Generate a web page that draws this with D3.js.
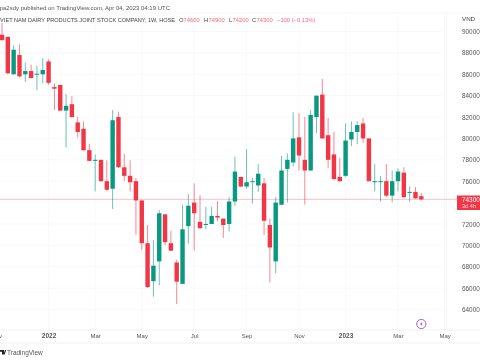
<!DOCTYPE html>
<html>
<head>
<meta charset="utf-8">
<script src="https://cdn.jsdelivr.net/npm/d3@7"></script>
<style>
html, body { margin: 0; padding: 0; background: #fff; }
svg { display: block; filter: blur(0.45px); }
text { font-family: "Liberation Sans", Arial, sans-serif; }
</style>
</head>
<body>
<svg id="chart" width="480" height="360"></svg>
<script>
const opens = [89700,89500,86000,87800,86000,86300,86000,86000,87200,84800,85000,82600,83200,81500,80900,78900,77900,78000,76000,75300,82000,77300,76500,76000,74200,70200,66650,68500,72900,70200,68400,66400,71800,74000,72200,71950,72000,72750,72500,72000,74100,76400,75500,75950,75600,75800,71900,68500,73800,77150,77750,80100,78000,77000,82000,84100,80300,78500,76400,76500,79900,80600,81400,80000,75900,75950,76000,74650,76000,76800,74950,75000,74600];
const highs = [90800,89500,88700,88800,87100,86900,86800,87500,87400,85150,85000,84150,83950,82050,81600,79500,78500,78000,77950,82650,82500,78550,77950,76300,74200,71900,70500,73300,72900,71350,68650,73800,74800,75800,74700,73600,73600,74150,72500,74500,78300,76400,79000,76300,77600,76300,72500,74500,78350,78600,82450,82350,82000,82650,84000,85550,81900,80600,78200,81400,81600,81600,81900,80000,77600,76500,77600,77000,77200,77300,75500,75450,74900];
const lows = [89100,86000,86000,85700,85300,85600,84500,85150,85000,82650,82600,79150,81950,80100,78850,77850,75050,75950,75100,73400,77250,76000,75050,71000,69600,66000,65200,66250,70000,69500,64500,66400,70150,69500,71550,71500,72000,72250,70700,71300,73700,75450,75300,73900,75000,70950,66550,67400,73800,74000,77400,77000,73800,77000,80500,80000,77200,76100,75950,76400,79300,79450,79600,76000,75050,74100,74500,74050,75050,74500,74050,74350,74200];
const closes = [89200,86100,88300,85800,86300,85650,86050,86400,85200,84650,82600,83050,82000,80600,78900,77900,78000,76000,75200,81700,77300,76500,75900,74200,70200,66100,68100,73000,70300,69500,66600,71500,73700,73000,71600,72000,72750,72600,71900,74100,76900,75500,75900,76000,76700,72300,69800,74000,77000,78000,80000,78400,77000,82200,84000,80000,78000,76200,76000,79800,80600,81250,80000,76000,76000,76000,74650,76000,76900,74500,75000,74400,74300];

const priceTicks = [64000,66000,68000,70000,72000,76000,78000,80000,82000,84000,86000,88000,90000];
const timeTickIndex = [-1, 8, 16, 24, 33, 42, 51, 59, 68, 76];
const timeTickLabels = ["Nov", "2022", "Mar", "May", "Jul", "Sep", "Nov", "2023", "Mar", "May"];
const lastPrice = 74300;

const red = "#f23645", green = "#089981";

const svg = d3.select("#chart");

const x = d3.scaleLinear().domain([0, 72]).range([2, 421.3]);
const y = d3.scaleLinear().domain([64000, 90000]).range([309.5, 31.5]);

// faint grid
svg.append("g").selectAll("line").data(priceTicks).join("line")
    .attr("x1", 0).attr("x2", 446)
    .attr("y1", d => y(d)).attr("y2", d => y(d))
    .attr("stroke", "#f8f9fb");
svg.append("g").selectAll("line").data(timeTickIndex).join("line")
    .attr("x1", d => x(d)).attr("x2", d => x(d))
    .attr("y1", 13).attr("y2", 330)
    .attr("stroke", "#f8f9fb");

// frame lines
[13, 330, 343].forEach(v => {
    svg.append("line").attr("x1", 0).attr("x2", 480).attr("y1", v).attr("y2", v)
        .attr("stroke", v == 13 ? "#f8f9fb" : "#eff1f5");
});
svg.append("line").attr("x1", 446.5).attr("x2", 446.5).attr("y1", 13).attr("y2", 330).attr("stroke", "#f6f7f9");

// last price line
svg.append("line").attr("x1", 0).attr("x2", 457)
    .attr("y1", y(lastPrice)).attr("y2", y(lastPrice))
    .attr("stroke", red).attr("stroke-opacity", 0.3);

// candles
const candles = svg.append("g").selectAll("g").data(d3.range(opens.length)).join("g");
const col = i => closes[i] >= opens[i] ? green : red;
candles.append("line")
    .attr("x1", i => x(i)).attr("x2", i => x(i))
    .attr("y1", i => y(highs[i])).attr("y2", i => y(lows[i]))
    .attr("stroke", col).attr("stroke-opacity", 0.6);
candles.append("rect")
    .attr("x", i => x(i) - 2.2)
    .attr("width", 4.4)
    .attr("y", i => y(Math.max(opens[i], closes[i])))
    .attr("height", i => Math.max(1, Math.abs(y(opens[i]) - y(closes[i]))))
    .attr("fill", col);

// axes
const yAxis = d3.axisRight(y).tickValues(priceTicks).tickSize(0).tickPadding(0).tickFormat(d => d);
const gy = svg.append("g").attr("transform", "translate(462,0)").call(yAxis);
gy.select(".domain").remove();
gy.selectAll("text").attr("font-size", 6.4).attr("fill", "#555").style("font-family", null);

const xAxis = d3.axisBottom(x).tickValues(timeTickIndex).tickSize(0).tickPadding(0)
    .tickFormat((d, i) => timeTickLabels[i]);
const gx = svg.append("g").attr("transform", "translate(0,333.5)").call(xAxis);
gx.select(".domain").remove();
gx.selectAll("text").attr("font-size", d => d == 8 || d == 59 ? 6.5 : 6)
    .attr("fill", "#555")
    .attr("font-weight", d => d == 8 || d == 59 ? "bold" : null)
    .style("font-family", null);

svg.append("text").attr("x", 462).attr("y", 21.2).attr("font-size", 6.2).attr("fill", "#444").text("VND");

// price label
svg.append("rect").attr("x", 457).attr("y", 195.5).attr("width", 23).attr("height", 14.5).attr("fill", red);
svg.append("text").attr("x", 462).attr("y", 201.8).attr("font-size", 6.4).attr("fill", "#fff").text("74300");
svg.append("text").attr("x", 462).attr("y", 208.2).attr("font-size", 5.6).attr("fill", "#ffd6da").text("3d 4h");

// header
svg.append("text").attr("x", 170).attr("y", 9.6).attr("text-anchor", "end")
    .attr("font-size", 6).attr("fill", "#555")
    .text("pa2sdy published on TradingView.com, Apr 04, 2023 04:19 UTC");
svg.append("text").attr("x", 175).attr("y", 22.2).attr("text-anchor", "end")
    .attr("font-size", 5.6).attr("fill", "#444")
    .text("VIET NAM DAIRY PRODUCTS JOINT STOCK COMPANY, 1W, HOSE");

const legend = [
    [179, "O", "#444"], [183.5, "74600", red],
    [204, "H", "#444"], [208.5, "74900", red],
    [229, "L", "#444"], [232.5, "74200", red],
    [252, "C", "#444"], [256.5, "74300", red],
    [277, "\u2212100 (\u22120.13%)", red]
];
svg.append("g").selectAll("text").data(legend).join("text")
    .attr("x", d => d[0]).attr("y", 22.2)
    .attr("font-size", 5.8).attr("fill", d => d[2])
    .attr("fill-opacity", d => d[2] == red ? 0.75 : 1)
    .text(d => d[1]);

// footer
svg.append("path").attr("d", "M0 350h4v4.5h-2v-2.7h-2z M3.4 354.5l1.6-4.5h1.2l-1.6 4.5z").attr("fill", "#222");
svg.append("text").attr("x", 7).attr("y", 354.6).attr("font-size", 6.5).attr("fill", "#555").text("TradingView");

// lightning badge
svg.append("circle").attr("cx", 421.3).attr("cy", 324).attr("r", 4.6)
    .attr("fill", "#fff").attr("stroke", "#a04cc0").attr("stroke-width", 0.9);
svg.append("path").attr("transform", "translate(421.3,324)")
    .attr("d", "M1 -2.8L-1.5 0.4H0L-1 2.8L1.5 -0.5H0z").attr("fill", "#a04cc0");
</script>
</body>
</html>
